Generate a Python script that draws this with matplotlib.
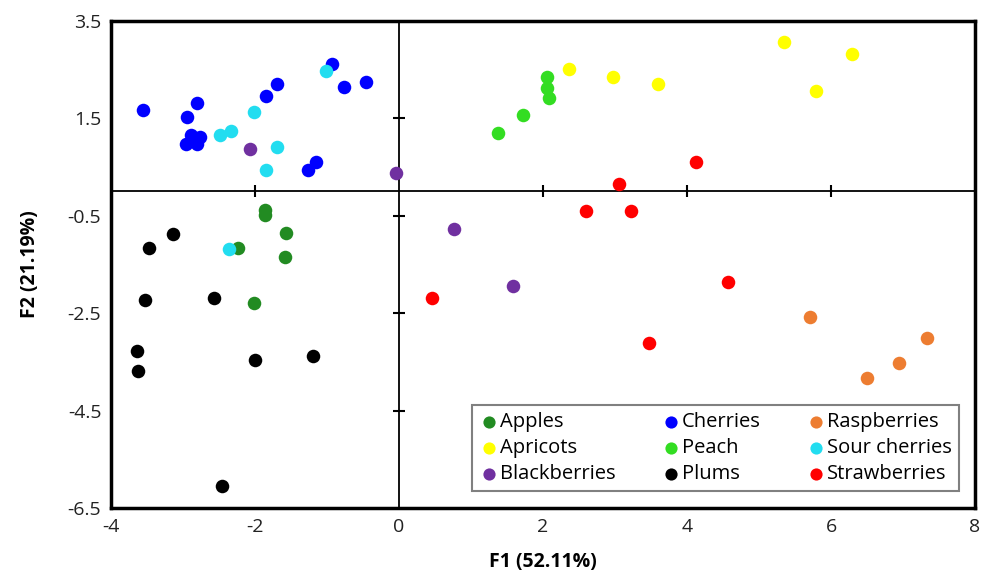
import matplotlib.pyplot as plt

# F1 / F2 scores
apples_x = [-1.86, -1.86, -1.57, -2.23, -1.59, -2.01]
apples_y = [-0.39, -0.49, -0.86, -1.16, -1.35, -2.29]
apricots_x = [2.36, 2.97, 3.59, 5.35, 5.79, 6.29]
apricots_y = [2.51, 2.36, 2.20, 3.06, 2.06, 2.82]
blackberries_x = [-2.07, -0.04, 0.77, 1.58]
blackberries_y = [0.88, 0.37, -0.78, -1.95]
cherries_x = [-3.56, -2.95, -2.81, -2.96, -2.89, -2.81, -2.77, -1.85, -1.70, -0.93, -0.77, -0.46, -1.27, -1.16]
cherries_y = [1.68, 1.52, 1.82, 0.98, 1.15, 0.98, 1.11, 1.96, 2.20, 2.62, 2.15, 2.24, 0.45, 0.61]
peach_x = [2.06, 2.06, 2.08, 1.72, 1.38]
peach_y = [2.34, 2.13, 1.91, 1.57, 1.20]
plums_x = [-3.14, -3.47, -3.53, -2.57, -3.64, -3.62, -2.00, -1.20, -2.46]
plums_y = [-0.87, -1.16, -2.22, -2.18, -3.27, -3.68, -3.47, -3.38, -6.05]
raspberries_x = [5.71, 6.50, 6.95, 7.33]
raspberries_y = [-2.58, -3.84, -3.53, -3.00]
sour_x = [-1.02, -2.01, -2.48, -2.34, -1.70, -1.85, -2.36]
sour_y = [2.48, 1.64, 1.15, 1.24, 0.91, 0.45, -1.18]
straw_x = [4.13, 3.05, 2.60, 3.22, 0.46, 4.57, 3.47]
straw_y = [0.60, 0.15, -0.41, -0.41, -2.18, -1.85, -3.12]

groups = [
    ('Apples', apples_x, apples_y, '#228b22'),
    ('Apricots', apricots_x, apricots_y, '#ffff00'),
    ('Blackberries', blackberries_x, blackberries_y, '#7030a0'),
    ('Cherries', cherries_x, cherries_y, '#0000ff'),
    ('Peach', peach_x, peach_y, '#33dd22'),
    ('Plums', plums_x, plums_y, '#000000'),
    ('Raspberries', raspberries_x, raspberries_y, '#ed7d31'),
    ('Sour cherries', sour_x, sour_y, '#22ddf0'),
    ('Strawberries', straw_x, straw_y, '#ff0000'),
]

xticks = [-4, -2, 0, 2, 4, 6, 8]
yticks = [3.5, 1.5, -0.5, -2.5, -4.5, -6.5]

plt.rcParams['font.family'] = ['Open Sans', 'DejaVu Sans']

fig = plt.figure(figsize=(9.86, 5.77), dpi=100)
ax = fig.add_axes([0.1126, 0.1196, 0.8763, 0.844])

for name, xs, ys, col in groups:
    ax.scatter(xs, ys, s=95, color=col, label=name, zorder=3, linewidths=0)

ax.set_xlim(-4, 8)
ax.set_ylim(-6.5, 3.5)
ax.set_xticks(xticks)
ax.set_yticks(yticks)
ax.set_xticklabels([str(t) for t in xticks])
ax.set_yticklabels([str(t) for t in yticks])
ax.tick_params(length=0, labelsize=14, pad=7, colors='#222222')
for sp in ax.spines.values():
    sp.set_linewidth(2.5)

# axis lines through the origin with crossing tick marks
ax.axhline(0, color='black', lw=1.3, zorder=1)
ax.axvline(0, color='black', lw=1.3, zorder=1)
inner_x = [t for t in xticks if t not in (-4, 0, 8)]
inner_y = [t for t in yticks if t not in (3.5, -6.5)]
ax.plot(inner_x, [0] * len(inner_x), ls='none', marker='|', ms=8, mew=1.5, color='black', zorder=1)
ax.plot([0] * len(inner_y), inner_y, ls='none', marker='_', ms=8, mew=1.5, color='black', zorder=1)

ax.set_xlabel('F1 (52.11%)', fontsize=14, fontweight='bold', labelpad=12)
ax.set_ylabel('F2 (21.19%)', fontsize=14, fontweight='bold', labelpad=20)

leg = ax.legend(ncol=3, loc='lower right', bbox_to_anchor=(0.993, 0.014), fontsize=14.5,
                fancybox=False, edgecolor='#808080', framealpha=1, handletextpad=0.1,
                columnspacing=2.3, labelspacing=0.3, borderpad=0.35, handlelength=0.9,
                markerscale=0.9)
leg.get_frame().set_linewidth(1.5)

fig.savefig('out.png', dpi=100)
